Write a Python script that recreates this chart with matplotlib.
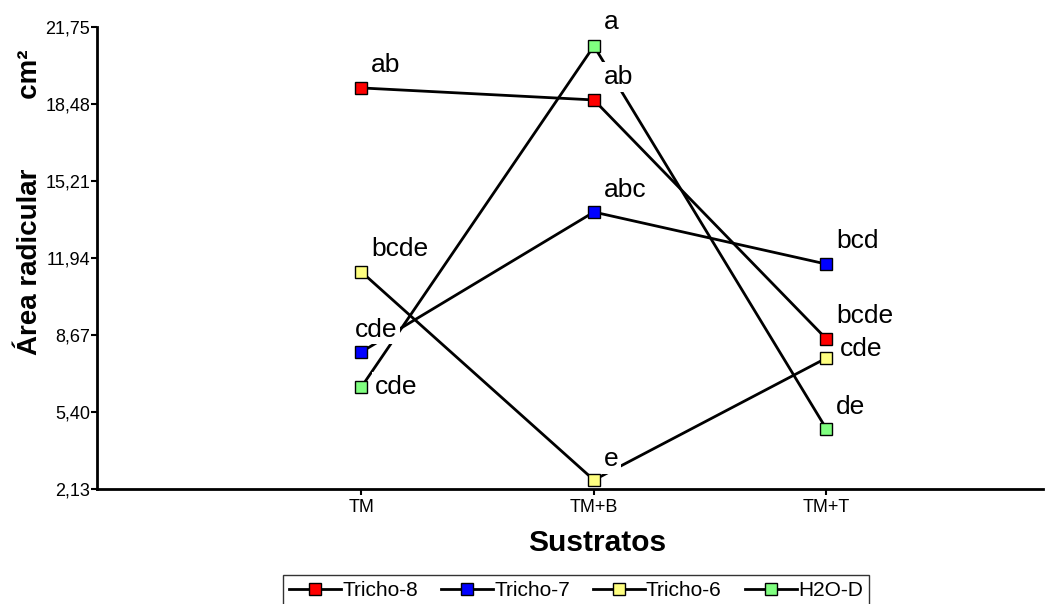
import matplotlib.pyplot as plt

plt.rcParams['font.family'] = ['Liberation Sans', 'DejaVu Sans']

sustratos = ['TM', 'TM+B', 'TM+T']
yticks = [2.13, 5.40, 8.67, 11.94, 15.21, 18.48, 21.75]

tricho8 = [19.16, 18.65, 8.50]
tricho7 = [7.95, 13.89, 11.68]
tricho6 = [11.35, 2.51, 7.69]
h2od = [6.46, 20.94, 4.68]

letras8 = ['ab', 'ab', 'bcde']
letras7 = ['cde', 'abc', 'bcd']
letras6 = ['bcde', 'e', 'cde']
letrash = ['cde', 'a', 'de']

series = [
    ('Tricho-8', tricho8, letras8, '#ff0000'),
    ('Tricho-7', tricho7, letras7, '#0000ff'),
    ('Tricho-6', tricho6, letras6, '#ffff80'),
    ('H2O-D', h2od, letrash, '#80ff80'),
]

# label offsets in points (dx, dy) per series / category
offsets = {
    'Tricho-8': [(7, 16.5), (7, 16.5), (7, 16.5)],
    'Tricho-7': [(-4.5, 16), (7, 16), (7, 16.5)],
    'Tricho-6': [(7, 16.5), (7, 15), (10, 6.5)],
    'H2O-D': [(9.5, 0), (7, 17), (7, 16)],
}

fig = plt.figure(figsize=(10.51, 6.04), dpi=100)
ax = fig.add_axes([0.0923, 0.1904, 0.9, 0.765])

x = list(range(len(sustratos)))
for nombre, vals, letras, color in series:
    ax.plot(x, vals, color='black', lw=2, marker='s', markersize=8.5,
            markerfacecolor=color, markeredgecolor='black', markeredgewidth=1,
            label=nombre, zorder=2)
    for i, (v, l) in enumerate(zip(vals, letras)):
        dx, dy = offsets[nombre][i]
        ax.annotate(l, (i, v), xytext=(dx, dy), textcoords='offset points',
                    ha='left', va='center', fontsize=19, color='black',
                    bbox=dict(boxstyle='square,pad=0.1', fc='white', ec='none'),
                    zorder=3)

ax.set_xlim(-1.137, 2.931)
ax.set_ylim(2.13, 21.75)
ax.set_yticks(yticks)
ax.set_yticklabels([f'{t:.2f}'.replace('.', ',') for t in yticks])
ax.set_xticks(x)
ax.set_xticklabels(sustratos)
ax.tick_params(axis='both', direction='out', length=4, width=1.5, labelsize=13, pad=1)
ax.tick_params(axis='x', pad=3)
ax.spines['top'].set_visible(False)
ax.spines['right'].set_visible(False)
ax.spines['left'].set_linewidth(2)
ax.spines['bottom'].set_linewidth(2)

ax.set_xlabel('Sustratos', fontsize=21.5, fontweight='bold')
ax.set_ylabel('Área radicular' + ' ' * 9 + 'cm²', fontsize=20, fontweight='bold')
ax.xaxis.set_label_coords(0.5285, -0.087)
ax.yaxis.set_label_coords(-0.057, 0.621)

leg = fig.legend(loc='upper left', bbox_to_anchor=(0.2693, 0.048), ncol=4,
                 fontsize=15, frameon=True, fancybox=False, handlelength=2.5,
                 handletextpad=0.05, columnspacing=1.1, borderpad=0.3,
                 borderaxespad=0)
leg.get_frame().set_edgecolor('black')
leg.get_frame().set_linewidth(1)

fig.savefig('out.png', dpi=100)
